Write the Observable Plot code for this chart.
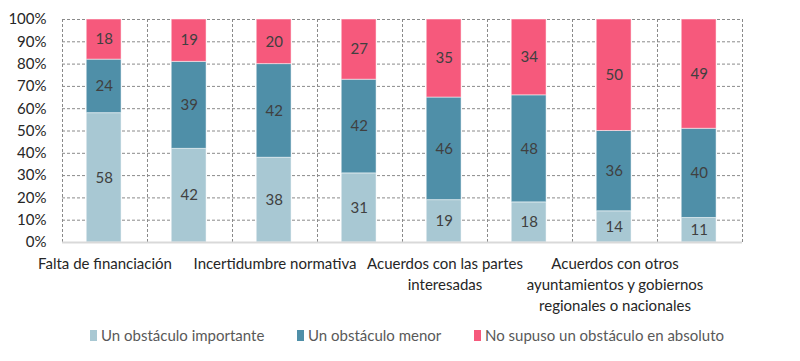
<!DOCTYPE html>
<html><head><meta charset="utf-8">
<script src="https://cdn.jsdelivr.net/npm/d3@7"></script>
<script src="https://cdn.jsdelivr.net/npm/@observablehq/plot@0.6"></script>
<style>
body{margin:0;background:#fff;font-family:Lato,"Noto Sans",sans-serif;}
#legend{position:relative;height:30px;font-size:15px;color:#595959;}
#legend .item{position:absolute;top:6px;display:flex;align-items:center;white-space:nowrap;}
#legend .sw{width:7px;height:11px;margin-right:4px;}
</style></head><body><div id="chart"></div><div id="legend"></div>
<script>
const tickLabels = ["Falta de financiación", "", "Incertidumbre normativa", "", "Acuerdos con las partes\ninteresadas", "", "Acuerdos con otros\nayuntamientos y gobiernos\nregionales o nacionales", ""];
const seriesNames = ["Un obstáculo importante", "Un obstáculo menor", "No supuso un obstáculo en absoluto"];
const important = [58, 42, 38, 31, 19, 18, 14, 11];
const minor = [24, 39, 42, 42, 46, 48, 36, 40];
const none = [18, 19, 20, 27, 35, 34, 50, 49];
const colors = ["#A8C8D3", "#4F8FA8", "#F6597C"];
const yTicks = [0, 10, 20, 30, 40, 50, 60, 70, 80, 90, 100];

const series = [important, minor, none];
const rows = [];
for (let i = 0; i < tickLabels.length; i++) {
  let acc = 0;
  series.forEach((vals, s) => {
    const v = vals[i];
    rows.push({i, x1: i + 0.285, x2: i + 0.695, xm: i + 0.49, y1: acc, y2: acc + v, ym: acc + v / 2, value: v, series: seriesNames[s]});
    acc += v;
  });
}

const chart = Plot.plot({
  width: 800,
  height: 320,
  marginLeft: 62,
  marginRight: 58,
  marginTop: 19,
  marginBottom: 78,
  style: {fontFamily: "Lato, 'Noto Sans', sans-serif", fontSize: "15px", color: "#262626", background: "#fff"},
  x: {domain: [0, tickLabels.length]},
  y: {domain: [0, 100]},
  color: {domain: seriesNames, range: colors},
  marks: [
    Plot.ruleY(yTicks.filter(d => d > 0), {stroke: "#8a8a8a", strokeDasharray: "3,2"}),
    Plot.ruleX(d3.range(tickLabels.length + 1), {stroke: "#8a8a8a", strokeDasharray: "3,2"}),
    Plot.rect(rows, {x1: "x1", x2: "x2", y1: "y1", y2: "y2", fill: "series", stroke: "white", strokeOpacity: 0.5, strokeWidth: 1}),
    Plot.ruleY([0], {stroke: "#d9d9d9", strokeWidth: 2}),
    Plot.text(rows, {x: "xm", y: "ym", text: "value", fill: "#404040", fontSize: 15}),
    Plot.axisY(yTicks, {tickSize: 0, tickPadding: 16, tickFormat: d => d + "%", label: null, fontSize: 15, fill: "#262626"}),
    Plot.axisX(d3.range(tickLabels.length).map(i => i + 0.5), {tickSize: 0, tickPadding: 12, tickFormat: d => tickLabels[Math.round(d - 0.5)], label: null, fontSize: 15, lineHeight: 1.4, fill: "#262626", textOverflow: null})
  ]
});
document.getElementById("chart").append(chart);

const legend = document.getElementById("legend");
const lefts = [90, 297, 474];
seriesNames.forEach((name, k) => {
  const item = document.createElement("div");
  item.className = "item";
  item.style.left = lefts[k] + "px";
  item.innerHTML = `<span class="sw" style="background:${colors[k]}"></span><span>${name}</span>`;
  legend.append(item);
});
</script>
</body></html>
